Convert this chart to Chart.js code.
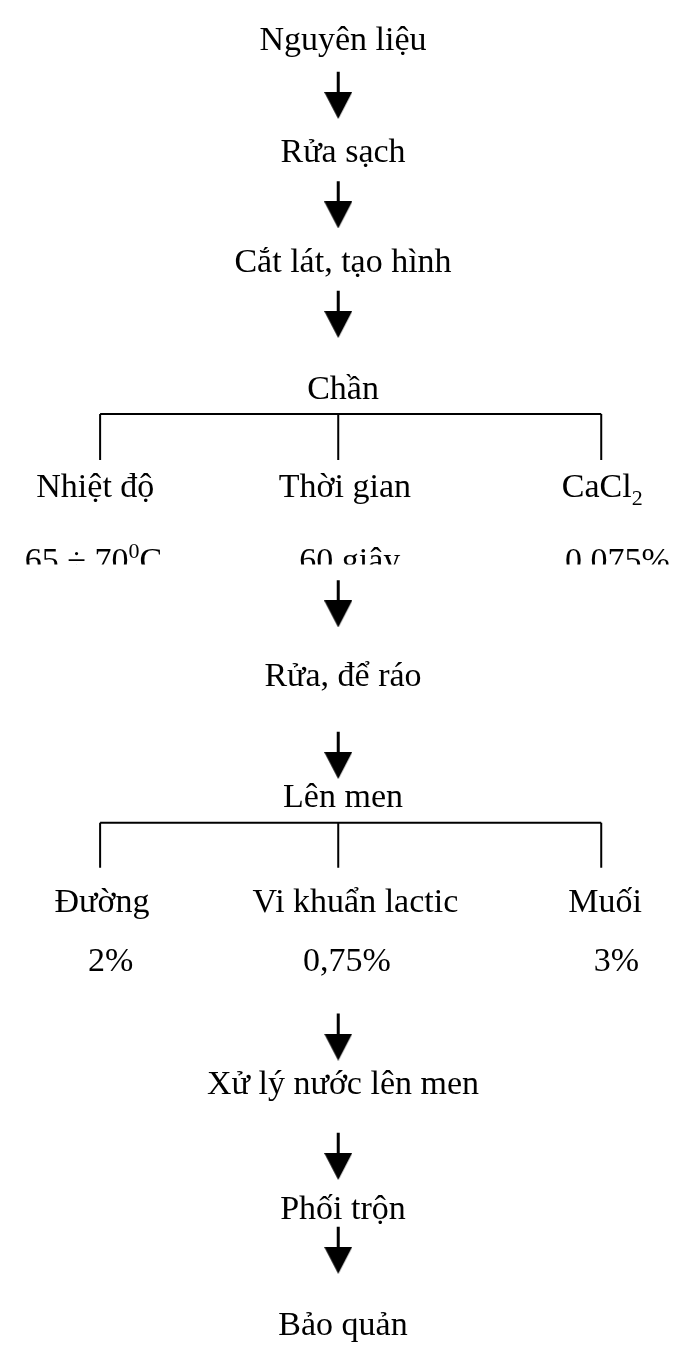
<!DOCTYPE html>
<html>
<head>
<meta charset="utf-8">
<script src="https://cdn.jsdelivr.net/npm/chart.js@4.4.0/dist/chart.umd.min.js"></script>
<style>
  html, body { margin: 0; padding: 0; background: #fff; }
  #wrap { width: 687px; height: 1358px; }
</style>
</head>
<body>
<div id="wrap"><canvas id="flowChart"></canvas></div>
<script>
// process steps, top to bottom
let steps = ['Nguyên liệu', 'Rửa sạch', 'Cắt lát, tạo hình', 'Chần', 'Rửa, để ráo', 'Lên men', 'Xử lý nước lên men', 'Phối trộn', 'Bảo quản'];
// "^x" = superscript, "_x" = subscript
let blanchParams = ['Nhiệt độ', 'Thời gian', 'CaCl_2'];
let blanchValues = ['65 ÷ 70^0C', '60 giây', '0,075%'];
let fermentParams = ['Đường', 'Vi khuẩn lactic', 'Muối'];
let fermentValues = ['2%', '0,75%', '3%'];

// layout (page units, y grows downwards)
let W = 687, H = 1358;
let arrowX = 338, labelX = 343;
let stepBase = [36, 150, 263, 393, 686, 810, 1103, 1231, 1350];
let arrowTop = [58, 170, 282, 578, 733, 1021, 1143, 1239];
let shaftLen = 21, headH = 27, headW = 28;
let branchX = [89, 338, 613];
let brackets = [{ y: 408, bottom: 455 }, { y: 826, bottom: 872 }];
let rows = [
    { labels: blanchParams, base: 493, x: [84, 345, 614] },
    { labels: blanchValues, base: 569, x: [82, 350, 630], clip: 562 },
    { labels: fermentParams, base: 917, x: [91, 356, 617] },
    { labels: fermentValues, base: 978, x: [100, 347, 629] }
];
let font = '34px "Liberation Serif", "Times New Roman", serif';
let smallFont = '22px "Liberation Serif", "Times New Roman", serif';

// arrow head as an image point style
let head = document.createElement('canvas');
head.width = headW; head.height = headH;
let hc = head.getContext('2d');
hc.fillStyle = '#000';
hc.beginPath();
hc.moveTo(0, 0); hc.lineTo(headW, 0); hc.lineTo(headW / 2, headH);
hc.closePath(); hc.fill();

let shaftData = [], headData = [], bracketData = [];
arrowTop.forEach(t => {
    shaftData.push({ x: arrowX, y: t }, { x: arrowX, y: t + shaftLen + 1 }, { x: arrowX, y: null });
    headData.push({ x: arrowX, y: t + shaftLen + headH / 2 });
});
brackets.forEach(b => {
    bracketData.push({ x: branchX[0], y: b.y }, { x: branchX[2], y: b.y }, { x: branchX[2], y: null });
    branchX.forEach(bx => bracketData.push({ x: bx, y: b.y }, { x: bx, y: b.bottom }, { x: bx, y: null }));
});

function parseRuns(s) {
    let runs = [];
    for (let i = 0; i < s.length; i++) {
        let c = s[i];
        if ((c === '^' || c === '_') && i + 1 < s.length) {
            runs.push({ t: s[i + 1], k: c });
            i++;
        } else {
            if (runs.length && runs[runs.length - 1].k === '') runs[runs.length - 1].t += c;
            else runs.push({ t: c, k: '' });
        }
    }
    return runs;
}

function drawLabel(ctx, text, px, py) {
    let runs = parseRuns(text);
    let total = 0;
    runs.forEach(r => {
        ctx.font = r.k ? smallFont : font;
        r.w = ctx.measureText(r.t).width;
        total += r.w;
    });
    let x = px - total / 2;
    runs.forEach(r => {
        ctx.font = r.k ? smallFont : font;
        let dy = r.k === '^' ? -13 : (r.k === '_' ? 8 : 0);
        ctx.fillText(r.t, x, py + dy);
        x += r.w;
    });
}

let textPlugin = {
    id: 'flowText',
    afterDatasetsDraw(chart) {
        let ctx = chart.ctx;
        let xs = chart.scales.x, ys = chart.scales.y;
        ctx.save();
        ctx.fillStyle = '#000';
        ctx.textAlign = 'left';
        ctx.textBaseline = 'alphabetic';
        steps.forEach((s, i) => drawLabel(ctx, s, xs.getPixelForValue(labelX), ys.getPixelForValue(stepBase[i])));
        rows.forEach(r => {
            ctx.save();
            if (r.clip) {
                ctx.beginPath();
                ctx.rect(0, 0, chart.width, ys.getPixelForValue(r.clip));
                ctx.clip();
            }
            r.labels.forEach((l, i) => drawLabel(ctx, l, xs.getPixelForValue(r.x[i]), ys.getPixelForValue(r.base)));
            ctx.restore();
        });
        ctx.restore();
    }
};

let ctx = document.getElementById('flowChart').getContext('2d');
let flowChart = new Chart(ctx, {
    type: 'scatter',
    data: {
        datasets: [{
            label: 'shafts',
            data: shaftData,
            showLine: true,
            spanGaps: false,
            borderColor: '#000',
            borderWidth: 3,
            pointRadius: 0
        }, {
            label: 'brackets',
            data: bracketData,
            showLine: true,
            spanGaps: false,
            borderColor: '#000',
            borderWidth: 2,
            pointRadius: 0
        }, {
            label: 'heads',
            data: headData,
            pointStyle: head,
            pointRadius: 14
        }]
    },
    options: {
        responsive: true,
        maintainAspectRatio: false,
        animation: false,
        layout: { padding: 0 },
        plugins: { legend: { display: false }, tooltip: { enabled: false } },
        scales: {
            x: { type: 'linear', min: 0, max: W, display: false },
            y: { type: 'linear', min: 0, max: H, reverse: true, display: false }
        }
    },
    plugins: [textPlugin]
});
</script>
</body>
</html>
